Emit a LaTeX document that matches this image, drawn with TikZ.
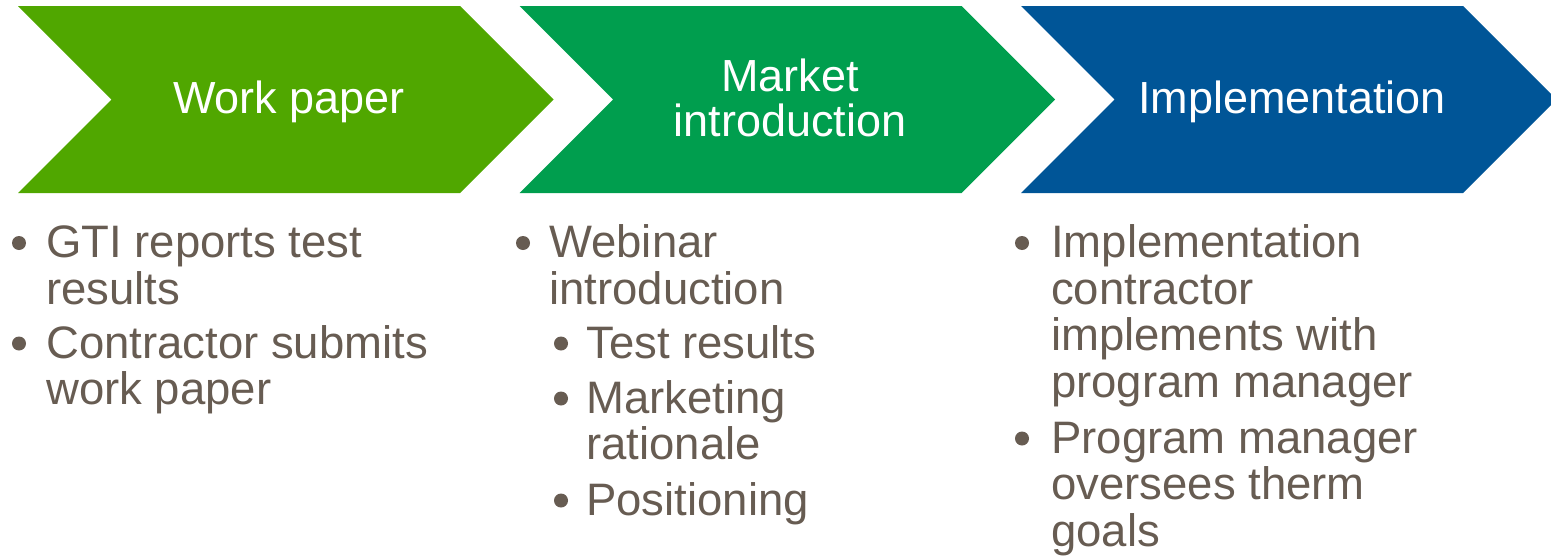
\documentclass[tikz,border=0pt]{standalone}
\usepackage{fontspec}
\setmainfont{Liberation Sans}
\definecolor{stepA}{HTML}{50A700}
\definecolor{stepB}{HTML}{009E4E}
\definecolor{stepC}{HTML}{005597}
\definecolor{bodytext}{HTML}{675C52}
\begin{document}
\begin{tikzpicture}[x=1pt,y=-1pt,
  chevfill/.style={fill=#1,draw=none},
  title/.style={text=white,inner sep=0pt,anchor=base,
    font=\fontsize{45}{45}\selectfont},
  itemtext/.style={text=bodytext,inner sep=0pt,anchor=base west,
    font=\fontsize{45.5}{46.7}\selectfont},
  dotmark/.style={circle,fill=bodytext,draw=none,inner sep=0pt,
    minimum size=14pt},
]
\useasboundingbox (0,0) rectangle (1551,557);

% three chevrons
\foreach \x/\c in {18/stepA,519.5/stepB,1021/stepC}{
  \fill[chevfill=\c] (\x,6) -- ++(442,0) -- ++(93.5,93.5) -- ++(-93.5,93.5)
    -- ++(-442,0) -- ++(93.5,-93.5) -- cycle;
}

% chevron titles
\node[title] (t1) at (289,113) {Work paper};
\node[title] (t2) at (790,91) {\parbox[t]{400pt}{\centering Market\\introduction}};
\node[title] (t3) at (1292,113) {Implementation};

% first column
\node[dotmark] (b1a) at (19,243) {};
\node[itemtext] (i1a) at (46,257.5) {\parbox[t]{420pt}{GTI reports test\\results}};
\node[dotmark] (b1b) at (19,343.5) {};
\node[itemtext] (i1b) at (46,358) {\parbox[t]{420pt}{Contractor submits\\work paper}};

% second column
\node[dotmark] (b2a) at (523,243) {};
\node[itemtext] (i2a) at (549,257.5) {\parbox[t]{420pt}{Webinar\\introduction}};
\node[dotmark] (b2b) at (561,343.5) {};
\node[itemtext] (i2b) at (586,358) {\parbox[t]{420pt}{Test results}};
\node[dotmark] (b2c) at (561,398.5) {};
\node[itemtext] (i2c) at (586,413) {\parbox[t]{420pt}{Marketing\\rationale}};
\node[dotmark] (b2d) at (561,500.5) {};
\node[itemtext] (i2d) at (586,515) {\parbox[t]{420pt}{Positioning}};

% third column
\node[dotmark] (b3a) at (1022,243) {};
\node[itemtext] (i3a) at (1051,257.5) {\parbox[t]{480pt}{Implementation\\contractor\\implements with\\program manager}};
\node[dotmark] (b3b) at (1022,438.5) {};
\node[itemtext] (i3b) at (1051,453) {\parbox[t]{480pt}{Program manager\\oversees therm\\goals}};
\end{tikzpicture}
\end{document}
